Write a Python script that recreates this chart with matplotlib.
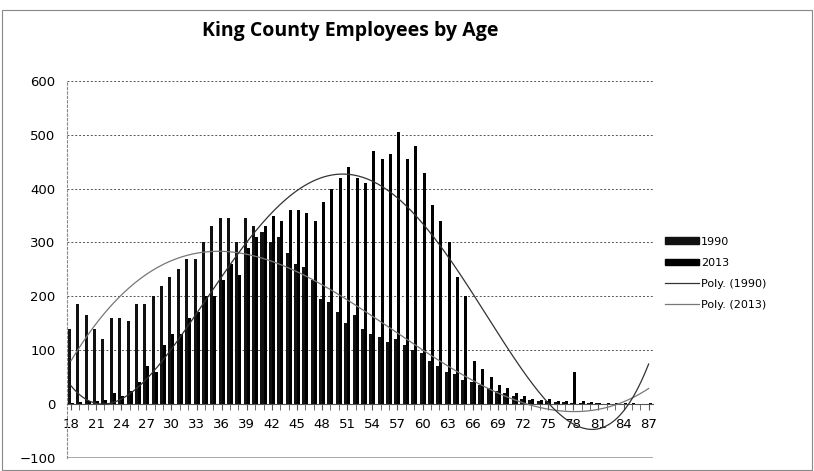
import matplotlib.pyplot as plt
import numpy as np
from matplotlib.lines import Line2D
from matplotlib.patches import Patch

# ages 18..87
ages = list(range(18, 88))

emp_1990 = [140, 185, 165, 140, 120, 160, 160, 155, 185, 185,
            200, 220, 235, 250, 270, 270, 300, 330, 345, 345,
            300, 345, 330, 320, 300, 310, 280, 260, 255, 230,
            195, 190, 170, 150, 165, 140, 130, 125, 115, 120,
            110, 100, 95, 80, 70, 60, 55, 45, 40, 35,
            30, 25, 20, 15, 10, 8, 6, 5, 4, 3,
            2, 2, 1, 1, 0, 0, 0, 0, 0, 0]

emp_2013 = [2, 3, 5, 5, 8, 20, 15, 25, 40, 70,
            60, 110, 130, 130, 160, 170, 200, 200, 230, 260,
            240, 290, 310, 330, 350, 340, 360, 360, 355, 340,
            375, 400, 420, 440, 420, 410, 470, 455, 465, 505,
            455, 480, 430, 370, 340, 300, 235, 200, 80, 65,
            50, 35, 30, 20, 15, 10, 8, 10, 5, 5,
            60, 5, 3, 2, 2, 1, 1, 1, 0, 1]

x = np.arange(len(ages))

fig = plt.figure(figsize=(8.14, 4.71), dpi=100)
ax = fig.add_axes([0.082, 0.028, 0.72, 0.80])

w = 0.36
ax.bar(x - w / 2, emp_1990, width=w, color='#111111', zorder=2)
ax.bar(x + w / 2, emp_2013, width=w, color='#000000', zorder=2)

# Excel style polynomial trendlines
xs = np.linspace(0, len(ages) - 1, 300)
p90 = np.polyfit(x + 1, emp_1990, 4)
p13 = np.polyfit(x + 1, emp_2013, 4)
ax.plot(xs, np.polyval(p90, xs + 1), color='#777777', lw=0.9, zorder=3)
ax.plot(xs, np.polyval(p13, xs + 1), color='#333333', lw=0.9, zorder=3)

ax.set_xlim(-0.5, len(ages) - 0.5)
ax.set_ylim(-100, 600)
ax.set_yticks(range(-100, 601, 100))
ax.yaxis.grid(True, color='#555555', ls=(0, (2, 2)), lw=0.7, zorder=0)
ax.set_axisbelow(True)

ax.spines['bottom'].set_position(('data', 0))
ax.spines['bottom'].set_color('#555555')
ax.spines['left'].set_color('#888888')
ax.spines['left'].set_linestyle((0, (2, 2)))
ax.spines['top'].set_visible(False)
ax.spines['right'].set_visible(False)
ax.axhline(-100, color='#999999', lw=1.2)

ax.set_xticks(x, minor=True)
ax.set_xticks(x[::3])
ax.set_xticklabels([str(a) for a in ages[::3]])
ax.tick_params(axis='x', which='both', length=4, direction='out', color='#555555')
ax.tick_params(axis='x', labelsize=9.5, pad=6)
ax.tick_params(axis='y', length=0, labelsize=9.5, pad=8)

fig.suptitle('King County Employees by Age', x=0.43, y=0.955,
             fontsize=14, fontweight='bold', family='Open Sans')

handles = [Patch(color='#111111'), Patch(color='#000000'),
           Line2D([], [], color='#333333', lw=0.9),
           Line2D([], [], color='#777777', lw=0.9)]
labels = ['1990', '2013', 'Poly. (1990)', 'Poly. (2013)']
fig.legend(handles, labels, loc='center left', bbox_to_anchor=(0.805, 0.42),
           frameon=False, fontsize=8, handlelength=3, handleheight=0.5,
           labelspacing=1.0, handletextpad=0.2)

fig.add_artist(plt.Rectangle((0.003, 0.003), 0.994, 0.975, transform=fig.transFigure,
                             fill=False, ec='#888888', lw=0.8))

fig.savefig('out.png', dpi=100)
